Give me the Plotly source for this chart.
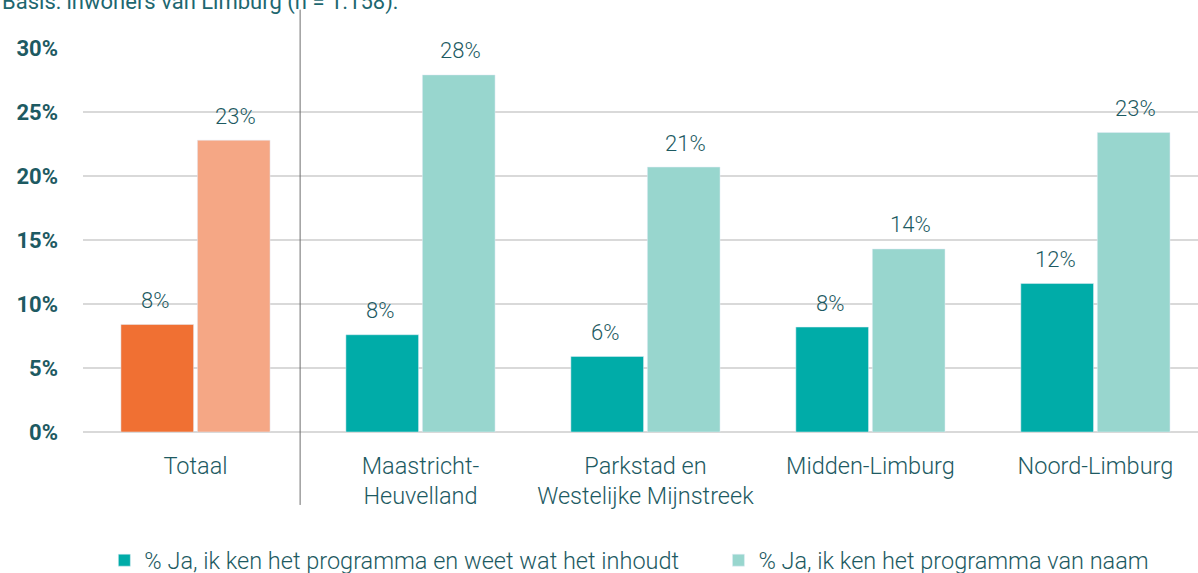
import plotly.graph_objects as go

# Data
categories = ["Totaal", "Maastricht-<br>Heuvelland", "Parkstad en<br>Westelijke Mijnstreek",
              "Midden-Limburg", "Noord-Limburg"]
series_names = ["% Ja, ik ken het programma en weet wat het inhoudt",
                "% Ja, ik ken het programma van naam"]
weet_inhoud = [8.4, 7.6, 5.9, 8.2, 11.6]
van_naam = [22.8, 27.9, 20.7, 14.3, 23.4]
y_ticks = [0, 5, 10, 15, 20, 25, 30]
y_tick_labels = [f"{t}%" for t in y_ticks]
subtitle = "Basis: inwoners van Limburg (n = 1.158):"

TEXT = "#1D5A62"
FONT = "Roboto"
dark_colors = ["#F07033"] + ["#00ACA8"] * 4
light_colors = ["#F5A785"] + ["#98D6CE"] * 4

fig = go.Figure()
# Totaal bars (orange) kept out of the legend; regional bars (teal) shown in it
fig.add_trace(go.Bar(x=categories[:1], y=weet_inhoud[:1], marker_color=dark_colors[:1],
                     offsetgroup="a", showlegend=False, hoverinfo="skip"))
fig.add_trace(go.Bar(x=categories[:1], y=van_naam[:1], marker_color=light_colors[:1],
                     offsetgroup="b", showlegend=False, hoverinfo="skip"))
fig.add_trace(go.Bar(x=categories[1:], y=weet_inhoud[1:], marker_color=dark_colors[1],
                     offsetgroup="a", name=series_names[0] + "\u00a0" * 6))
fig.add_trace(go.Bar(x=categories[1:], y=van_naam[1:], marker_color=light_colors[1],
                     offsetgroup="b", name=series_names[1]))

# Value labels above each bar
for cat, v1, v2 in zip(categories, weet_inhoud, van_naam):
    for v, dx in ((v1, -40), (v2, 40)):
        fig.add_annotation(x=cat, y=v, text=f"{round(v)}%", showarrow=False,
                           xshift=dx, yshift=24, yanchor="middle",
                           font=dict(family=FONT, size=22, color=TEXT, weight=300))

# Separator between total and regions
fig.add_shape(type="line", xref="x", yref="paper", x0=0.465, x1=0.465, y0=-0.19, y1=1.1,
              line=dict(color="#6E6E6E", width=1))

fig.add_annotation(text=subtitle, xref="paper", yref="paper", x=0, xanchor="left",
                   y=1.12, yanchor="middle", showarrow=False, xshift=-83,
                   font=dict(family=FONT, size=22, color="#1D6770"))

fig.update_layout(
    width=1198, height=573,
    margin=dict(l=83, r=0, t=48, b=141, autoexpand=False),
    plot_bgcolor="white", paper_bgcolor="white",
    barmode="group", bargap=0.32, bargroupgap=0.05,
    font=dict(family=FONT, size=22, color=TEXT),
    showlegend=True,
    legend=dict(orientation="h", x=0.49, xanchor="center",
                yref="container", y=0.022, yanchor="middle",
                font=dict(family=FONT, size=23.5, color=TEXT, weight=300), itemwidth=30,
                traceorder="normal"),
    xaxis=dict(range=[-0.5, 4.456], showgrid=False, showline=False, ticks="",
               ticklabelstandoff=17,
               tickfont=dict(family=FONT, size=23.5, color=TEXT, weight=300)),
    yaxis=dict(range=[0, 30], tickvals=y_ticks, ticktext=y_tick_labels,
               showgrid=True, gridcolor="#D9D9D9", gridwidth=2,
               zeroline=True, zerolinecolor="#D9D9D9", zerolinewidth=2,
               ticklabelstandoff=24,
               tickfont=dict(family=FONT, size=22, color=TEXT, weight="bold")),
)

fig.write_html("out.html")
